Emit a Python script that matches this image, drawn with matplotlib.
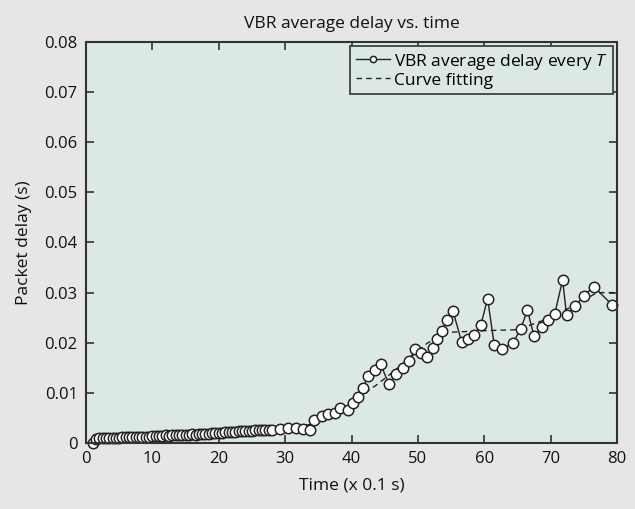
import matplotlib
matplotlib.use('Agg')
import matplotlib.pyplot as plt

plt.rcParams['font.family'] = ['Open Sans', 'DejaVu Sans']
plt.rcParams['mathtext.fontset'] = 'custom'
plt.rcParams['mathtext.it'] = 'Open Sans:italic'

# VBR average delay sampled every T (time in units of 0.1 s, delay in s)
time_pts = [
    1.0, 1.5, 2.0, 2.5, 3.0, 3.5, 4.0, 4.5, 5.0, 5.5, 6.0, 6.5, 7.0, 7.5, 8.0, 8.5,
    9.0, 9.5, 10.0, 10.5, 11.0, 11.5, 12.0, 12.5, 13.0, 13.5, 14.0, 14.5, 15.0,
    15.5, 16.0, 16.5, 17.0, 17.5, 18.0, 18.5, 19.0, 19.5, 20.0, 20.5, 21.0, 21.5,
    22.0, 22.5, 23.0, 23.5, 24.0, 24.5, 25.0, 25.5, 26.0, 26.5, 27.0, 27.5, 28.0,
    29.2, 30.5, 31.6, 32.7, 33.7, 34.3, 35.5, 36.5, 37.5, 38.3, 39.4, 40.3, 41.0,
    41.7, 42.5, 43.5, 44.4, 45.6, 46.7, 47.7, 48.6, 49.6, 50.5, 51.4, 52.3, 52.9,
    53.6, 54.4, 55.3, 56.6, 57.6, 58.5, 59.5, 60.5, 61.5, 62.7, 64.3, 65.5, 66.5,
    67.5, 68.7, 69.6, 70.6, 71.8, 72.4, 73.7, 75.0, 76.5, 79.3,
]
delay = [
    0.0000, 0.0007, 0.0009, 0.0009, 0.0010, 0.0010, 0.0010, 0.0010, 0.0010, 0.0011,
    0.0011, 0.0011, 0.0011, 0.0011, 0.0011, 0.0012, 0.0012, 0.0012, 0.0013, 0.0014,
    0.0014, 0.0014, 0.0015, 0.0014, 0.0015, 0.0015, 0.0016, 0.0015, 0.0016, 0.0016,
    0.0017, 0.0016, 0.0017, 0.0017, 0.0018, 0.0018, 0.0019, 0.0019, 0.0020, 0.0020,
    0.0021, 0.0021, 0.0022, 0.0022, 0.0023, 0.0023, 0.0024, 0.0024, 0.0024, 0.0025,
    0.0025, 0.0025, 0.0026, 0.0026, 0.0025,
    0.0027, 0.0030, 0.0030, 0.0027, 0.0026, 0.0046, 0.0053, 0.0057, 0.0060, 0.0069,
    0.0065, 0.0080, 0.0092, 0.0110, 0.0133, 0.0145, 0.0157, 0.0118, 0.0137, 0.0150,
    0.0163, 0.0187, 0.0180, 0.0172, 0.0189, 0.0207, 0.0223, 0.0246, 0.0263, 0.0201,
    0.0208, 0.0216, 0.0236, 0.0288, 0.0196, 0.0188, 0.0199, 0.0228, 0.0265, 0.0213,
    0.0231, 0.0246, 0.0257, 0.0325, 0.0255, 0.0273, 0.0294, 0.0312, 0.0275,
]

# curve fitting (dashed), read at coarse points
fit_time = [1, 10, 20, 30, 35, 40, 44, 47, 51.5, 55, 60, 65, 70, 75, 77, 80]
fit_delay = [0.0008, 0.0013, 0.0020, 0.0028, 0.0040, 0.0080, 0.0118, 0.0150,
             0.0200, 0.0221, 0.0224, 0.0226, 0.0250, 0.0285, 0.0300, 0.0300]

fig = plt.figure(figsize=(6.35, 5.09), dpi=100, facecolor='#e6e6e6')
ax = fig.add_axes([0.1354, 0.1297, 0.8363, 0.7878])
ax.set_facecolor('#dce8e5')

ax.plot(time_pts, delay, color='#222222', linewidth=1.0, marker='o',
        markersize=7.5, markerfacecolor='white', markeredgecolor='#222222',
        markeredgewidth=1.1, label='VBR average delay every $T$', zorder=3,
        clip_on=False)
ax.plot(fit_time, fit_delay, color='#222222', linewidth=1.0, linestyle=(0, (4, 3)),
        label='Curve fitting', zorder=2)

ax.set_xlim(0, 80)
ax.set_ylim(0, 0.08)
ax.set_xticks(range(0, 81, 10))
ax.set_yticks([0, 0.01, 0.02, 0.03, 0.04, 0.05, 0.06, 0.07, 0.08])
ax.set_yticklabels(['0', '0.01', '0.02', '0.03', '0.04', '0.05', '0.06', '0.07', '0.08'])
ax.tick_params(direction='in', length=6, width=1.2, color='#333333',
               top=True, right=True, labelsize=12, pad=6, labelcolor='#111111')

for sp in ax.spines.values():
    sp.set_color('#333333')
    sp.set_linewidth(1.5)
    sp.set_zorder(4)

ax.set_title('VBR average delay vs. time', fontsize=12.5, pad=10, color='#111111')
ax.set_xlabel('Time (x 0.1 s)', fontsize=12.5, labelpad=7, color='#111111')
ax.set_ylabel('Packet delay (s)', fontsize=12.5, labelpad=9, color='#111111')

leg = ax.legend(loc='upper right', fontsize=12.5, frameon=True, fancybox=False,
                edgecolor='#333333', facecolor='#dce8e5', framealpha=1,
                handlelength=2.0, handletextpad=0.2, borderpad=0.3,
                labelspacing=0.05, borderaxespad=0.25, markerscale=0.6)
leg.get_frame().set_linewidth(1.2)
leg.set_zorder(5)

fig.savefig('out.png', dpi=100, facecolor=fig.get_facecolor())
